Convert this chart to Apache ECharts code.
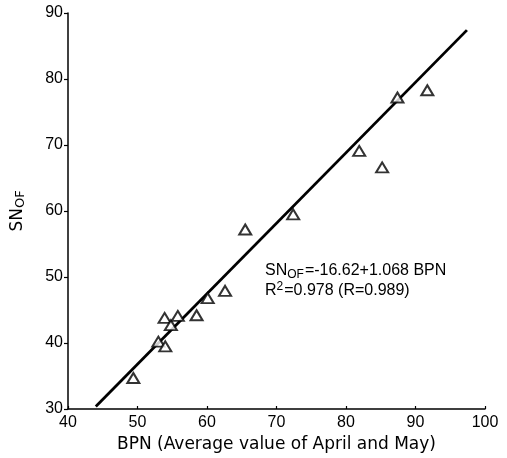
<!DOCTYPE html>
<html>
<head>
<meta charset="utf-8">
<script src="https://cdn.jsdelivr.net/npm/echarts@6/dist/echarts.min.js"></script>
<style>
  html, body { margin: 0; padding: 0; background: #fff; }
  #chart { width: 507px; height: 458px; }
</style>
</head>
<body>
<div id="chart"></div>
<script>
// Observed stations: BPN (x) against SN_OF (y)
const bpnValues = [49.4, 53.0, 54.0, 53.9, 54.8, 55.8, 58.5, 60.1, 62.6, 65.5, 72.4, 81.9, 85.2, 87.4, 91.7];
const snValues  = [34.7, 40.2, 39.5, 43.8, 42.7, 44.1, 44.2, 46.8, 47.9, 57.2, 59.5, 69.1, 66.6, 77.2, 78.3];

// Fitted regression: SN_OF = intercept + slope * BPN
const intercept = -16.62;
const slope = 1.068;
const fitRange = [44.0, 97.4];

const xTicks = [40, 50, 60, 70, 80, 90, 100];
const yTicks = [30, 40, 50, 60, 70, 80, 90];

const points = bpnValues.map((x, i) => [x, snValues[i]]);
const fitLine = fitRange.map(x => [x, intercept + slope * x]);

const font = 'DejaVu Sans';
const ink = '#000';
const chart = echarts.init(document.getElementById('chart'));

chart.setOption({
  animation: false,
  backgroundColor: '#fff',
  grid: { left: 68, right: 22, top: 13, bottom: 49 },
  xAxis: {
    type: 'value',
    min: xTicks[0], max: xTicks[xTicks.length - 1], interval: 10,
    name: 'BPN (Average value of April and May)',
    nameLocation: 'middle', nameGap: 27,
    nameTextStyle: { fontFamily: font, fontSize: 17, color: ink },
    axisLine: { lineStyle: { color: ink, width: 1.5 } },
    axisTick: { inside: true, length: 3, lineStyle: { color: ink, width: 1.2 } },
    axisLabel: { fontFamily: 'Liberation Sans', fontSize: 16, color: ink, margin: 6 },
    splitLine: { show: false }
  },
  yAxis: {
    type: 'value',
    min: yTicks[0], max: yTicks[yTicks.length - 1], interval: 10,
    name: '{m|SN}{s|OF}',
    nameLocation: 'middle', nameGap: 41, nameRotate: 90,
    nameTextStyle: {
      rich: {
        m: { fontFamily: font, fontSize: 17, color: ink },
        s: { fontFamily: font, fontSize: 13, color: ink, padding: [6, 0, 0, 0] }
      }
    },
    axisLine: { lineStyle: { color: ink, width: 1.5 } },
    axisTick: { inside: false, length: 4, lineStyle: { color: ink, width: 1.2 } },
    axisLabel: { fontFamily: 'Liberation Sans', fontSize: 16, color: ink, margin: 5 },
    splitLine: { show: false }
  },
  graphic: [{
    type: 'text',
    left: 265, top: 261,
    style: {
      text: '{m|SN}{s|OF}{m|=-16.62+1.068 BPN}\n{m|R}{p|2}{m|=0.978 (R=0.989)}',
      rich: {
        m: { fontFamily: 'Liberation Sans', fontSize: 16, fill: ink, lineHeight: 20 },
        s: { fontFamily: 'Liberation Sans', fontSize: 12, fill: ink, padding: [8, 1, 0, 0], lineHeight: 20 },
        p: { fontFamily: 'Liberation Sans', fontSize: 12, fill: ink, padding: [0, 1, 8, 0], lineHeight: 20 }
      }
    }
  }],
  series: [
    {
      type: 'line',
      data: fitLine,
      symbol: 'none',
      lineStyle: { color: ink, width: 2.8 },
      z: 2
    },
    {
      type: 'scatter',
      data: points,
      symbol: 'triangle',
      symbolSize: [12, 10],
      itemStyle: { color: '#fff', borderColor: ink, borderWidth: 2 },
      z: 3
    }
  ]
});
</script>
</body>
</html>
